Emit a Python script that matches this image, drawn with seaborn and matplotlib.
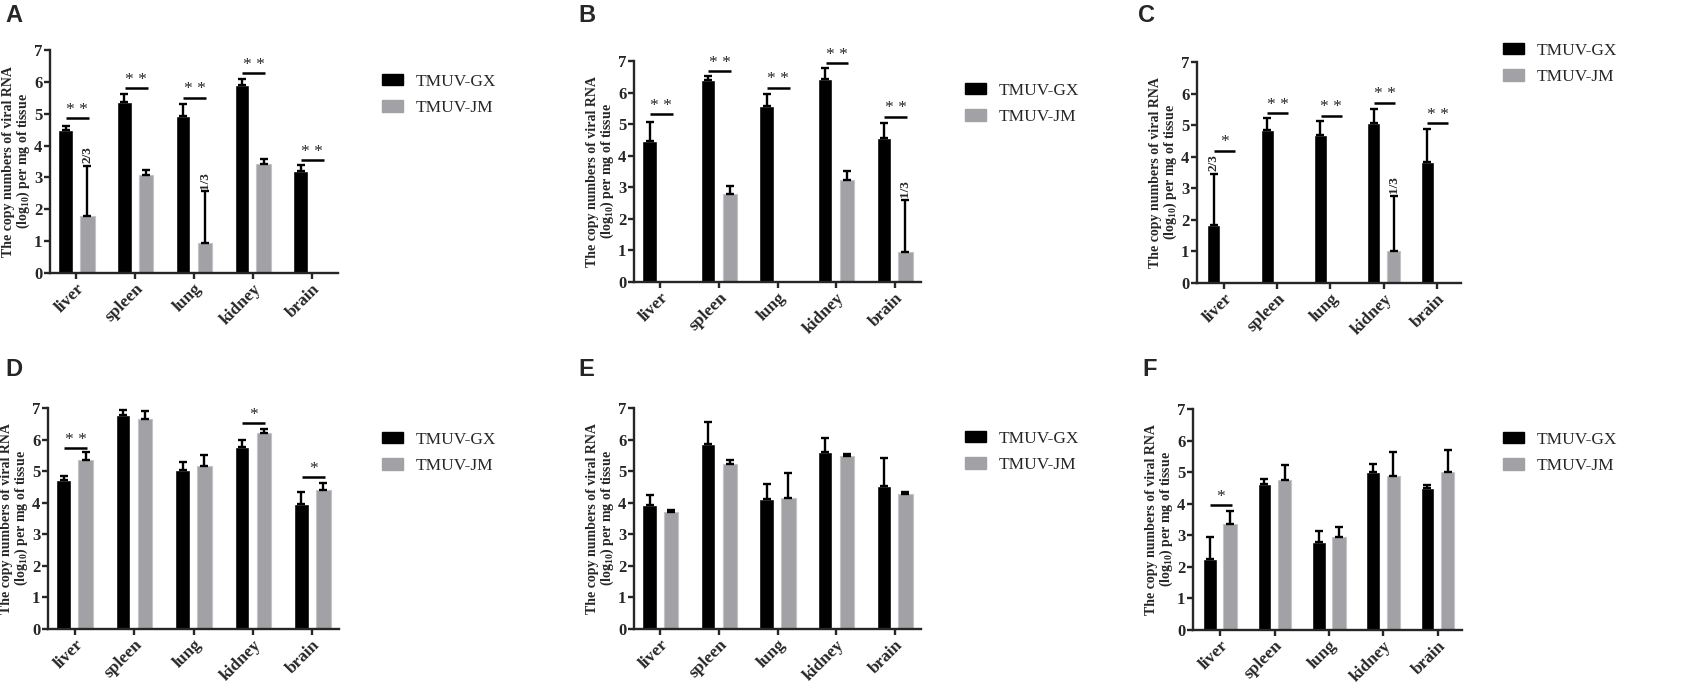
import matplotlib
matplotlib.use('Agg')
import matplotlib.pyplot as plt
import pandas as pd
import seaborn as sns
from matplotlib.patches import Patch

organs = ['liver', 'spleen', 'lung', 'kidney', 'brain']
strains = ['TMUV-GX', 'TMUV-JM']
colors = ['#000000', '#a2a2a6']

# values (log10 copies per mg), mean and upper SD
a_gx = [4.49, 5.37, 4.92, 5.90, 3.21]
a_gx_sd = [0.14, 0.24, 0.39, 0.20, 0.17]
a_jm = [1.79, 3.09, 0.93, 3.43, 0.0]
a_jm_sd = [1.57, 0.13, 1.64, 0.14, 0.0]

b_gx = [4.47, 6.41, 5.57, 6.42, 4.55]
b_gx_sd = [0.61, 0.10, 0.40, 0.35, 0.50]
b_jm = [0.0, 2.78, 0.0, 3.24, 0.94]
b_jm_sd = [0.0, 0.27, 0.0, 0.29, 1.66]

c_gx = [1.84, 4.85, 4.69, 5.06, 3.83]
c_gx_sd = [1.62, 0.38, 0.43, 0.45, 1.04]
c_jm = [0.0, 0.0, 0.0, 1.01, 0.0]
c_jm_sd = [0.0, 0.0, 0.0, 1.75, 0.0]

d_gx = [4.71, 6.77, 5.03, 5.77, 3.96]
d_gx_sd = [0.15, 0.18, 0.26, 0.21, 0.37]
d_jm = [5.36, 6.65, 5.17, 6.22, 4.41]
d_jm_sd = [0.24, 0.27, 0.34, 0.13, 0.22]

e_gx = [3.92, 5.85, 4.11, 5.61, 4.53]
e_gx_sd = [0.34, 0.71, 0.49, 0.44, 0.90]
e_jm = [3.71, 5.22, 4.16, 5.47, 4.28]
e_jm_sd = [0.06, 0.14, 0.78, 0.06, 0.07]

f_gx = [2.25, 4.63, 2.79, 5.00, 4.51]
f_gx_sd = [0.68, 0.14, 0.35, 0.26, 0.08]
f_jm = [3.36, 4.75, 2.96, 4.89, 4.99]
f_jm_sd = [0.42, 0.48, 0.29, 0.75, 0.71]

# significance marks: (organ index, line height, label)
a_sig = [(0, 4.85, '* *'), (1, 5.80, '* *'), (2, 5.50, '* *'), (3, 6.27, '* *'), (4, 3.54, '* *')]
b_sig = [(0, 5.31, '* *'), (1, 6.68, '* *'), (2, 6.16, '* *'), (3, 6.94, '* *'), (4, 5.24, '* *')]
c_sig = [(0, 4.19, '*'), (1, 5.38, '* *'), (2, 5.30, '* *'), (3, 5.71, '* *'), (4, 5.06, '* *')]
d_sig = [(0, 5.72, '* *'), (3, 6.52, '*'), (4, 4.80, '*')]
e_sig = []
f_sig = [(0, 3.96, '*')]

# positive-sample fractions: (organ index, strain index, label)
a_frac = [(0, 1, '2/3'), (2, 1, '1/3')]
b_frac = [(4, 1, '1/3')]
c_frac = [(0, 0, '2/3'), (3, 1, '1/3')]

sns.set_style('ticks')
plt.rcParams['font.family'] = ['Liberation Serif', 'DejaVu Serif']
plt.rcParams['mathtext.fontset'] = 'custom'
plt.rcParams['mathtext.rm'] = 'Liberation Serif:bold'
plt.rcParams['mathtext.it'] = 'Liberation Serif:bold'
plt.rcParams['mathtext.bf'] = 'Liberation Serif:bold'

W, H = 1687, 685
fig = plt.figure(figsize=(W / 100, H / 100), dpi=100)


def rect(left, right, top, bottom):
    return [left / W, 1 - bottom / H, (right - left) / W, (bottom - top) / H]


def draw_panel(box, gx, gx_sd, jm, jm_sd, sig, frac, letter, letter_xy, leg_xy, xmin):
    ax = fig.add_axes(rect(*box))
    width_px = box[1] - box[0]
    df = pd.DataFrame({
        'organ': organs * 2,
        'strain': [strains[0]] * 5 + [strains[1]] * 5,
        'value': gx + jm,
    })
    sns.barplot(data=df, x='organ', y='value', hue='strain', order=organs,
                hue_order=strains, palette=colors, width=0.74, gap=0.33,
                errorbar=None, legend=False, ax=ax, saturation=1)
    bar_groups = list(ax.containers[:2])
    for bar in bar_groups[1]:
        bar.set_edgecolor('#c4c4c6')
        bar.set_linewidth(0.8)

    sds = [gx_sd, jm_sd]
    means = [gx, jm]
    centers = []
    for k, cont in enumerate(bar_groups):
        xs = [b.get_x() + b.get_width() / 2 for b in cont]
        centers.append(xs)
        for i, x in enumerate(xs):
            if sds[k][i] > 0:
                ax.errorbar(x, means[k][i], yerr=[[0], [sds[k][i]]], fmt='none',
                            ecolor='black', elinewidth=1.7, capsize=2.8,
                            capthick=1.7, zorder=1)

    for i, h, txt in sig:
        ax.plot([i - 0.18, i + 0.21], [h, h], color='black', lw=1.8,
                solid_capstyle='butt', clip_on=False)
        ax.text(i + 0.015, h + 0.01, txt, ha='center', va='bottom',
                fontsize=12.5)

    for i, k, txt in frac:
        top = means[k][i] + sds[k][i]
        ax.text(centers[k][i], top + 0.08, txt, rotation=90, ha='center',
                va='bottom', fontsize=9.5, fontweight='bold')

    ax.set_ylim(0, 7)
    ax.set_xlim(xmin, 4.45)
    ax.set_yticks(range(8))
    ax.set_yticklabels([str(v) for v in range(8)], fontweight='bold', fontsize=12)
    ax.set_xticks(range(5))
    ax.set_xticklabels(organs, fontweight='bold', fontsize=12.5, rotation=45,
                       ha='right', rotation_mode='anchor')
    ax.set_xlabel('')
    ax.set_ylabel('The copy numbers of viral RNA\n(log$_{10}$) per mg of tissue',
                  fontsize=10, fontweight='bold', linespacing=0.92, va='center')
    ax.yaxis.set_label_coords(-33 / width_px, 0.5)
    sns.despine(ax=ax)
    for s in ['left', 'bottom']:
        ax.spines[s].set_linewidth(1.7)
    ax.tick_params(axis='both', width=1.7, length=4.5, pad=1)

    fig.text(letter_xy[0] / W, 1 - letter_xy[1] / H, letter, fontsize=17,
             fontweight='bold', family='Liberation Sans', va='center')

    handles = [Patch(facecolor=colors[0], edgecolor=colors[0]),
               Patch(facecolor=colors[1], edgecolor=colors[1])]
    fig.legend(handles, strains, loc='center left',
               bbox_to_anchor=(leg_xy[0] / W, 1 - leg_xy[1] / H),
               frameon=False, fontsize=12.5, handlelength=1.2, handleheight=0.62,
               handletextpad=0.75, labelspacing=0.6, borderpad=0,
               borderaxespad=0)
    return ax


draw_panel((50, 338, 50, 273), a_gx, a_gx_sd, a_jm, a_jm_sd, a_sig, a_frac,
           'A', (5, 16), (382, 95), -0.45)
draw_panel((634, 921, 61, 282), b_gx, b_gx_sd, b_jm, b_jm_sd, b_sig, b_frac,
           'B', (578, 16), (965, 104), -0.45)
draw_panel((1197, 1461, 62, 283), c_gx, c_gx_sd, c_jm, c_jm_sd, c_sig, c_frac,
           'C', (1138, 16), (1503, 64), -0.5)
draw_panel((48, 339, 408, 629), d_gx, d_gx_sd, d_jm, d_jm_sd, d_sig, [],
           'D', (5, 370), (382, 453), -0.45)
draw_panel((634, 921, 408, 629), e_gx, e_gx_sd, e_jm, e_jm_sd, e_sig, [],
           'E', (578, 370), (965, 452), -0.45)
draw_panel((1193, 1462, 409, 630), f_gx, f_gx_sd, f_jm, f_jm_sd, f_sig, [],
           'F', (1142, 370), (1503, 453), -0.5)

fig.savefig('out.png', dpi=100)
